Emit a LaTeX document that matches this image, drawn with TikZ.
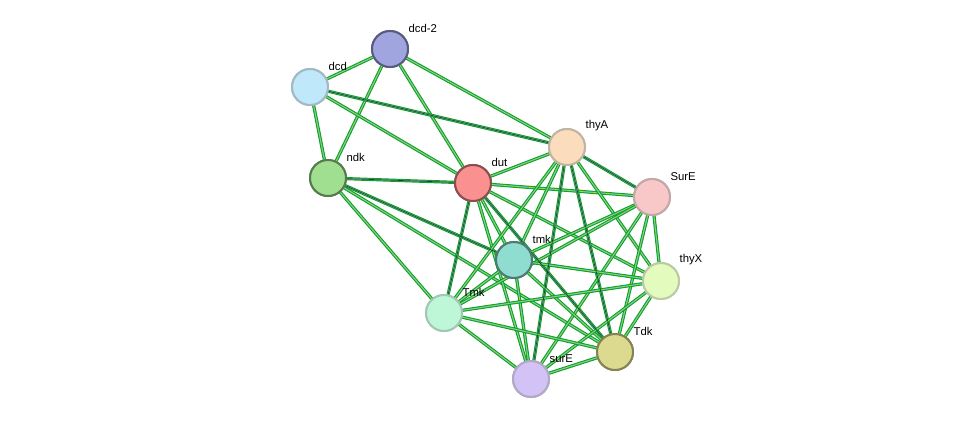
\documentclass[tikz,border=0pt]{standalone}
\usepackage{fontspec}
\setmainfont{Liberation Sans}
\definecolor{cDcdb}{HTML}{A0A5E0}
\definecolor{cDcd}{HTML}{BFE8FA}
\definecolor{cNdk}{HTML}{9FDF8F}
\definecolor{cDut}{HTML}{FA9090}
\definecolor{cThyA}{HTML}{FBDDBE}
\definecolor{cSurE}{HTML}{F8C8C8}
\definecolor{cTmk}{HTML}{8FDCD0}
\definecolor{cThyX}{HTML}{E4FBBE}
\definecolor{cTmkb}{HTML}{BDF7D8}
\definecolor{cTdk}{HTML}{DCDA8E}
\definecolor{cSurEb}{HTML}{D2C2F5}
\begin{document}
\begin{tikzpicture}[x=0.75pt,y=-0.75pt,
  prot/.style={circle,draw,line width=1.5pt,minimum size=27pt,inner sep=0pt},
  lbl/.style={font=\fontsize{8.5}{10}\selectfont,anchor=south west,inner sep=1pt},
  link/.style={line width=2.4pt,draw=green!65!black},
  linkb/.style={line width=1.3pt,draw=cyan!70!teal},
  linkc/.style={line width=0.5pt,draw=yellow!75!green},
  linkd/.style={line width=0.5pt,draw=black!80}]
\useasboundingbox (0,0) rectangle (975,424);
\node[prot,fill=cDcdb,draw=cDcdb!55!black] (dcd2) at (390,49) {};
\node[prot,fill=cDcd,draw=cDcd!55!gray] (dcd) at (310,87) {};
\node[prot,fill=cNdk,draw=cNdk!55!black] (ndk) at (328,178) {};
\node[prot,fill=cDut,draw=cDut!55!black] (dut) at (473,183) {};
\node[prot,fill=cThyA,draw=cThyA!55!gray] (thyA) at (567,147) {};
\node[prot,fill=cSurE,draw=cSurE!55!gray] (SurE) at (652,197) {};
\node[prot,fill=cTmk,draw=cTmk!55!black] (tmk) at (514,260) {};
\node[prot,fill=cThyX,draw=cThyX!60!gray] (thyX) at (661,281) {};
\node[prot,fill=cTmkb,draw=cTmkb!60!gray] (Tmk) at (444,313) {};
\node[prot,fill=cTdk,draw=cTdk!60!black] (Tdk) at (615,352) {};
\node[prot,fill=cSurEb,draw=cSurEb!60!gray] (surE) at (531,379) {};
\begin{scope}[on background layer/.try]
\foreach \a/\b in {dcd2/dcd,dcd2/ndk,dcd2/dut,dcd2/thyA,dcd/ndk,dcd/dut,dcd/thyA,
  ndk/dut,ndk/tmk,ndk/Tmk,ndk/Tdk,dut/thyA,dut/SurE,dut/tmk,dut/thyX,dut/Tmk,dut/Tdk,dut/surE,
  thyA/SurE,thyA/tmk,thyA/thyX,thyA/Tmk,thyA/Tdk,thyA/surE,SurE/tmk,SurE/Tmk,SurE/thyX,
  SurE/Tdk,SurE/surE,tmk/thyX,tmk/Tmk,tmk/Tdk,tmk/surE,thyX/Tmk,thyX/Tdk,thyX/surE,
  Tmk/Tdk,Tmk/surE,surE/Tdk}
{
  \draw[link] (\a) -- (\b);
  \draw[linkb] (\a) -- (\b);
  \draw[linkc] (\a) -- (\b);
}
\foreach \a/\b in {dcd/thyA,ndk/dut,ndk/tmk,dut/Tmk,dut/Tdk,thyA/surE,thyA/Tdk,thyA/SurE}
  \draw[linkd] (\a) -- (\b);
\end{scope}
\node[prot,fill=cDcdb,draw=cDcdb!55!black] at (dcd2) {};
\node[prot,fill=cDcd,draw=cDcd!55!gray] at (dcd) {};
\node[prot,fill=cNdk,draw=cNdk!55!black] at (ndk) {};
\node[prot,fill=cDut,draw=cDut!55!black] at (dut) {};
\node[prot,fill=cThyA,draw=cThyA!55!gray] at (thyA) {};
\node[prot,fill=cSurE,draw=cSurE!55!gray] at (SurE) {};
\node[prot,fill=cTmk,draw=cTmk!55!black] at (tmk) {};
\node[prot,fill=cThyX,draw=cThyX!60!gray] at (thyX) {};
\node[prot,fill=cTmkb,draw=cTmkb!60!gray] at (Tmk) {};
\node[prot,fill=cTdk,draw=cTdk!60!black] at (Tdk) {};
\node[prot,fill=cSurEb,draw=cSurEb!60!gray] at (surE) {};
\node[lbl] at (407,34) {dcd-2};
\node[lbl] at (327,72) {dcd};
\node[lbl] at (345,163) {ndk};
\node[lbl] at (490,168) {dut};
\node[lbl] at (584,132) {thyA};
\node[lbl] at (669,182) {SurE};
\node[lbl] at (531,245) {tmk};
\node[lbl] at (678,266) {thyX};
\node[lbl] at (461,298) {Tmk};
\node[lbl] at (632,337) {Tdk};
\node[lbl] at (548,364) {surE};
\end{tikzpicture}
\end{document}
